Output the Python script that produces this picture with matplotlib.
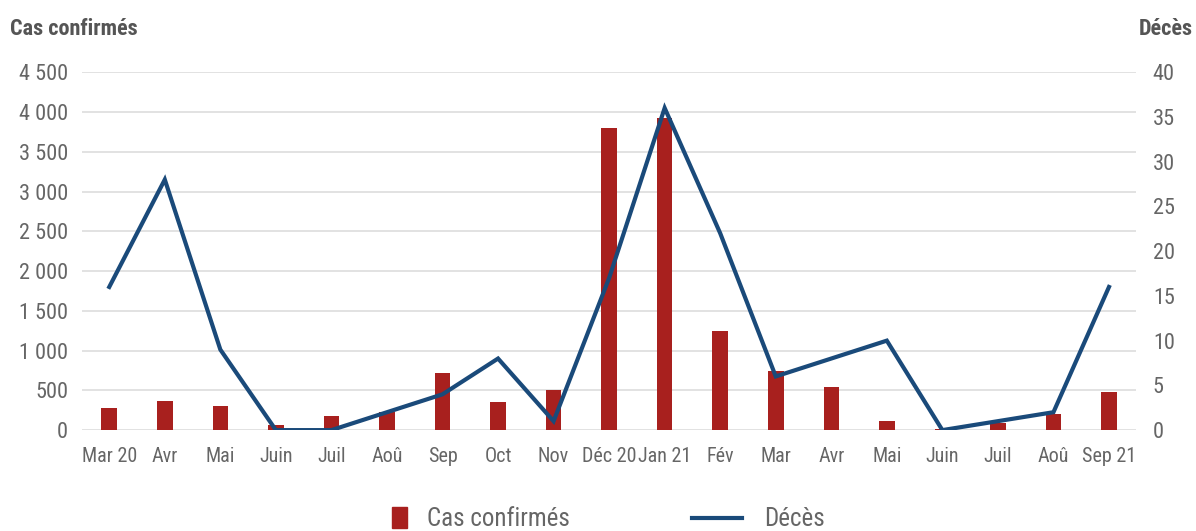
import matplotlib
matplotlib.use("Agg")
import matplotlib.pyplot as plt
from matplotlib import font_manager
from matplotlib.patches import Rectangle
from matplotlib.lines import Line2D

months = ["Mar 20", "Avr", "Mai", "Juin", "Juil", "Aoû", "Sep", "Oct", "Nov",
          "Déc 20", "Jan 21", "Fév", "Mar", "Avr", "Mai", "Juin", "Juil", "Aoû", "Sep 21"]
cas_confirmes = [280, 360, 300, 60, 175, 230, 720, 350, 500,
                 3800, 3930, 1250, 740, 540, 110, 10, 90, 200, 480]
deces = [16, 28, 9, 0, 0, 2, 4, 8, 1,
         17, 36, 22, 6, 8, 10, 0, 1, 2, 16]
left_ticks = [0, 500, 1000, 1500, 2000, 2500, 3000, 3500, 4000, 4500]
left_labels = ["0", "500", "1 000", "1 500", "2 000", "2 500", "3 000", "3 500", "4 000", "4 500"]
right_ticks = [0, 5, 10, 15, 20, 25, 30, 35, 40]

fonts = font_manager.fontManager.ttflist
names = {f.name for f in fonts}
stretch = 'normal'
condensed = False
for cand in ["Roboto Condensed", "Liberation Sans Narrow", "Open Sans Condensed", "Noto Sans Condensed"]:
    if cand in names:
        fam = [cand, "DejaVu Sans"]
        condensed = True
        break
else:
    if any(f.name == "DejaVu Sans" and str(f.stretch) in ("condensed", "semi-condensed") for f in fonts):
        fam = ["DejaVu Sans"]
        stretch = 'condensed'
        condensed = True
    else:
        fam = ["Roboto", "DejaVu Sans"]
plt.rcParams['font.family'] = fam
plt.rcParams['font.stretch'] = stretch
xsize = 14.5 if condensed else 13

BAR = "#a8201e"
LINE = "#1a4a7a"
TXT = "#666666"
GRID = "#dddddd"

fig = plt.figure(figsize=(11.96, 5.31), dpi=100)
ax = fig.add_axes([0.0686, 0.19, 0.8814, 0.674])
x = list(range(len(months)))
ax.bar(x, cas_confirmes, width=0.28, color=BAR, zorder=2)
ax.set_ylim(0, 4500)
ax.set_xlim(-0.49, len(months) - 0.51)
ax.set_yticks(left_ticks)
ax.set_yticklabels(left_labels)
ax.set_xticks(x)
ax.set_xticklabels(months)
ax.grid(axis='y', color=GRID, linewidth=1.2, zorder=0)
ax.set_axisbelow(True)
for s in ax.spines.values():
    s.set_visible(False)
ax.tick_params(axis='y', length=0, labelsize=16, colors=TXT, pad=10)
ax.tick_params(axis='x', length=0, labelsize=xsize, colors=TXT, pad=12)

ax2 = ax.twinx()
ax2.plot(x, deces, color=LINE, linewidth=3, zorder=3, solid_joinstyle='miter')
ax2.set_ylim(0, 40)
ax2.set_yticks(right_ticks)
for s in ax2.spines.values():
    s.set_visible(False)
ax2.tick_params(axis='y', length=0, labelsize=16, colors=TXT, pad=12)

fig.text(0.008, 0.945, "Cas confirmés", fontsize=16, fontweight='bold', color="#555555", va='center', ha='left')
fig.text(0.997, 0.945, "Décès", fontsize=16, fontweight='bold', color="#555555", va='center', ha='right')

leg1 = fig.legend([Rectangle((0, 0), 1, 1, color=BAR)], ["Cas confirmés"], loc='center left',
                  bbox_to_anchor=(0.319, 0.022), frameon=False, fontsize=18,
                  handlelength=0.6, handleheight=0.9, handletextpad=0.8, labelcolor=TXT,
                  borderaxespad=0)
leg2 = fig.legend([Line2D([0], [0], color=LINE, linewidth=3)], ["Décès"], loc='center left',
                  bbox_to_anchor=(0.570, 0.022), frameon=False, fontsize=18,
                  handlelength=2.0, handletextpad=0.9, labelcolor=TXT, borderaxespad=0)

fig.savefig("out.png", dpi=100)
